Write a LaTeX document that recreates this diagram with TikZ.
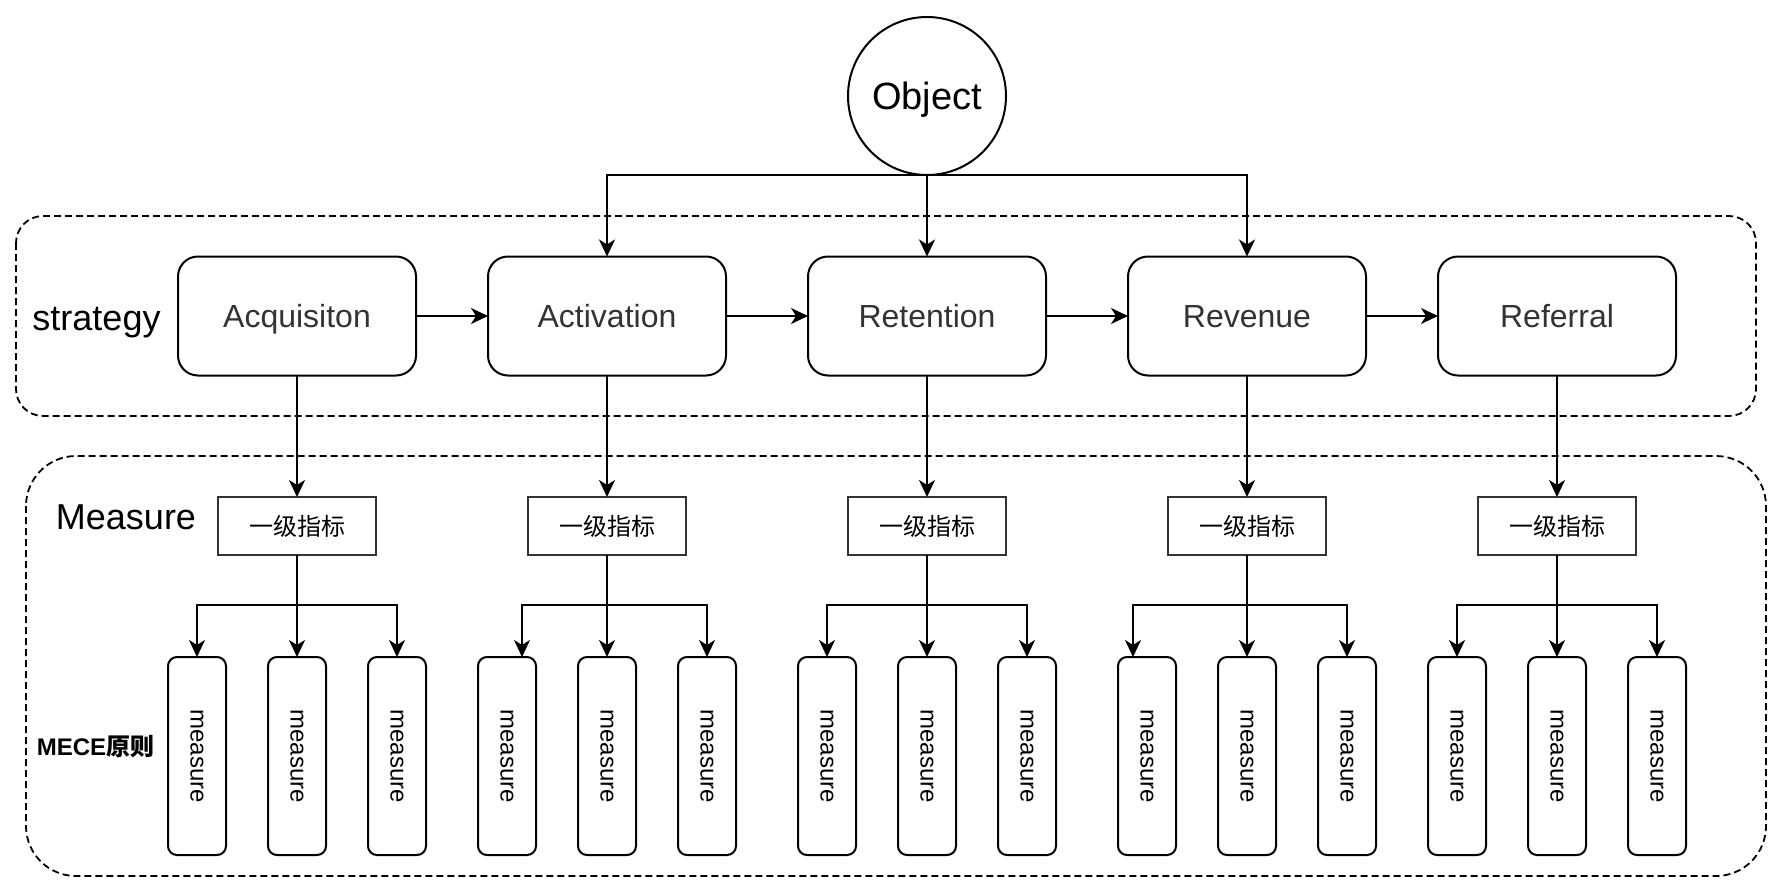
\documentclass[tikz,border=0pt]{standalone}
\usepackage{fontspec}
\usepackage{graphicx}
\setmainfont{Liberation Sans}
\newfontfamily\cjk{Noto Sans CJK SC}
\usetikzlibrary{arrows.meta,calc}
\definecolor{txtgray}{HTML}{333333}
\begin{document}
\begin{tikzpicture}[x=1pt,y=-1pt,
  every node/.style={inner sep=0pt, outer sep=0pt},
  lw/.style={line width=2pt},
  arr/.style={lw, -{Stealth[length=17pt,width=16pt,inset=5pt]}},
  container/.style={draw, line width=1.8pt, dash pattern=on 7pt off 4pt},
  objnode/.style={circle, draw, lw, minimum size=158pt, text height=27pt, text depth=0pt,
     font=\fontsize{38}{44}\selectfont},
  stratbox/.style={draw, lw, rounded corners=20pt, minimum width=238pt, minimum height=119pt,
     text height=23pt, text depth=0pt, text=txtgray, font=\fontsize{32}{38}\selectfont},
  kpibox/.style={draw=txtgray, lw, minimum width=158pt, minimum height=58pt,
     font=\cjk\fontsize{24}{28}\selectfont},
  measbox/.style={draw, lw, rounded corners=9pt, minimum width=58pt, minimum height=198pt,
     font=\fontsize{24}{28}\selectfont},
  biglabel/.style={text height=26pt, text depth=0pt, font=\fontsize{36}{42}\selectfont},
]
\useasboundingbox (0,0) rectangle (1784,894);

% containers
\draw[container, rounded corners=27pt] (16,216) rectangle (1756,416);
\draw[container, rounded corners=50pt] (26,456) rectangle (1766,876);

% labels
\node[biglabel] (lstrat) at (96.5,317) {strategy};
\node[biglabel] (lmeas) at (126,516) {Measure};
\node[font=\fontsize{24}{28}\selectfont\bfseries] (lmece) at (95.5,747) {MECE{\cjk\bfseries 原则}};

% object
\node[objnode] (obj) at (927,96) {Object};

% strategy boxes
\node[stratbox] (s1) at (297,316) {Acquisiton};
\node[stratbox] (s2) at (607,316) {Activation};
\node[stratbox] (s3) at (927,316) {Retention};
\node[stratbox] (s4) at (1247,316) {Revenue};
\node[stratbox] (s5) at (1557,316) {Referral};

\draw[arr] (obj.south) -| (s2.north);
\draw[arr] (obj.south) -- (s3.north);
\draw[arr] (obj.south) -| (s4.north);

\draw[arr] (s1.east) -- (s2.west);
\draw[arr] (s2.east) -- (s3.west);
\draw[arr] (s3.east) -- (s4.west);
\draw[arr] (s4.east) -- (s5.west);

% level-1 indicator boxes and measures
\foreach \i/\cx/\off in {1/297/0, 2/607/15, 3/927/0, 4/1247/-14, 5/1557/0}{
  \node[kpibox] (k\i) at (\cx,526) {一级指标};
  \draw[arr] (s\i.south) -- (k\i.north);
  \node[measbox] (m\i a) at (\cx-100,756) {\rotatebox{-90}{measure}};
  \node[measbox] (m\i b) at (\cx,756) {\rotatebox{-90}{measure}};
  \node[measbox] (m\i c) at (\cx+100,756) {\rotatebox{-90}{measure}};
  \draw[arr] (k\i.south) -- ++(0,50) -| ($(m\i a.north)+(\off,0)$);
  \draw[arr] (k\i.south) -- (m\i b.north);
  \draw[arr] (k\i.south) -- ++(0,50) -| (m\i c.north);
}
\end{tikzpicture}
\end{document}
